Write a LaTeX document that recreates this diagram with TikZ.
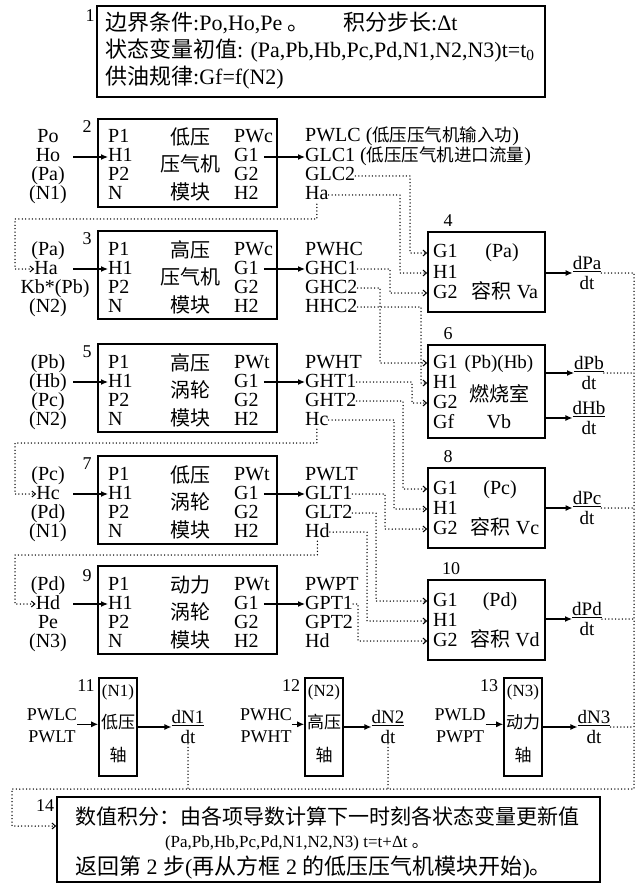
\documentclass[tikz,border=0pt]{standalone}
\usepackage{fontspec}
\setmainfont{Liberation Serif}
\newfontfamily\zhfont{Noto Sans CJK SC}
\newcommand{\zh}[1]{{\zhfont #1}}
\newcommand{\zhs}[1]{{\zhfont\fontsize{17.5}{17.5}\selectfont #1}}
\usetikzlibrary{arrows.meta}
\tikzset{
  box/.style={draw, line width=1.6pt, inner sep=0pt},
  txt/.style={inner sep=0pt, font=\fontsize{20}{20}\selectfont, text height=14pt, text depth=4pt},
  wtxt/.style={txt, anchor=west},
  bigtxt/.style={inner sep=0pt, anchor=west, font=\fontsize{22}{22}\selectfont, text height=15pt, text depth=4pt},
  smtxt/.style={inner sep=0pt, font=\fontsize{18}{18}\selectfont, text height=12.6pt, text depth=3.6pt},
  axtxt/.style={inner sep=0pt, font=\fontsize{17}{17}\selectfont, text height=12pt, text depth=3.4pt},
  num/.style={inner sep=0pt, font=\fontsize{18}{18}\selectfont},
  frac/.style={inner sep=0pt, align=center, font=\fontsize{19}{19}\selectfont},
  arr/.style={line width=1.2pt, -{Latex[length=7pt,width=6pt]}},
  dotln/.style={line width=1.5pt, line cap=round, dash pattern=on 0pt off 3.4pt},
  dotarr/.style={dotln, -{Straight Barb[length=3.5pt,width=6pt,line width=1pt]}}
}
\begin{document}
\begin{tikzpicture}[x=1pt,y=-1pt]
\fill[white] (0,0) rectangle (639,893);
\useasboundingbox (0,0) rectangle (639,893);

\node[box, minimum width=448pt, minimum height=91pt] (b1) at (321,51.5) {};
\node[num] (t1) at (90,16) {1};
\node[bigtxt] (l1a) at (105,25) {\zh{边界条件}:Po,Ho,Pe \zh{。}};
\node[bigtxt] (l1b) at (343,25) {\zh{积分步长}:Δt};
\node[bigtxt] (l1c) at (105,52) {\zh{状态变量初值}: (Pa,Pb,Hb,Pc,Pd,N1,N2,N3)t=t\textsubscript{0}};
\node[bigtxt] (l1d) at (105,79) {\zh{供油规律}:Gf=f(N2)};

\node[box, minimum width=179pt, minimum height=88pt] (b2) at (187.5,163) {};
\node[num] (t2) at (87,127) {2};
\node[txt] (i2a) at (48,138) {Po};
\node[txt] (i2b) at (48,157) {Ho};
\node[txt] (i2c) at (48,176) {(Pa)};
\node[txt] (i2d) at (48,195) {(N1)};
\node[wtxt] (l2a) at (108,138) {P1};
\node[wtxt] (l2b) at (108,157) {H1};
\node[wtxt] (l2c) at (108,176) {P2};
\node[wtxt] (l2d) at (108,195) {N};
\node[txt] (c2a) at (190,140) {\zh{低压}};
\node[txt] (c2b) at (190,167) {\zh{压气机}};
\node[txt] (c2c) at (190,195) {\zh{模块}};
\node[wtxt] (r2a) at (234,138) {PWc};
\node[wtxt] (r2b) at (234,157) {G1};
\node[wtxt] (r2c) at (234,176) {G2};
\node[wtxt] (r2d) at (234,195) {H2};
\node[wtxt] (o2a) at (305,137) {PWLC (\zhs{低压压气机输入功})};
\node[wtxt] (o2b) at (305,157) {GLC1 (\zhs{低压压气机进口流量})};
\node[wtxt] (o2c) at (305,176) {GLC2};
\node[wtxt] (o2d) at (305,195) {Ha};
\draw[arr] ([xshift=25pt]i2b.center) -- (l2b.west);
\draw[arr, shorten <=5pt] (r2b.east) -- (o2b.west);

\node[box, minimum width=179pt, minimum height=88pt] (b3) at (187.5,275) {};
\node[num] (t3) at (87,239) {3};
\node[txt] (i3a) at (48,250) {(Pa)};
\node[txt] (i3b) at (46,269) {Ha};
\node[txt] (i3c) at (55,288) {Kb*(Pb)};
\node[txt] (i3d) at (48,307) {(N2)};
\node[wtxt] (l3a) at (108,250) {P1};
\node[wtxt] (l3b) at (108,269) {H1};
\node[wtxt] (l3c) at (108,288) {P2};
\node[wtxt] (l3d) at (108,307) {N};
\node[txt] (c3a) at (190,252) {\zh{高压}};
\node[txt] (c3b) at (190,279) {\zh{压气机}};
\node[txt] (c3c) at (190,307) {\zh{模块}};
\node[wtxt] (r3a) at (234,250) {PWc};
\node[wtxt] (r3b) at (234,269) {G1};
\node[wtxt] (r3c) at (234,288) {G2};
\node[wtxt] (r3d) at (234,307) {H2};
\node[wtxt] (o3a) at (305,250) {PWHC};
\node[wtxt] (o3b) at (305,269) {GHC1};
\node[wtxt] (o3c) at (305,288) {GHC2};
\node[wtxt] (o3d) at (305,307) {HHC2};
\draw[arr] ([xshift=27pt]i3b.center) -- (l3b.west);
\draw[arr, shorten <=5pt] (r3b.east) -- (o3b.west);

\node[box, minimum width=179pt, minimum height=88pt] (b5) at (187.5,388) {};
\node[num] (t5) at (87,352) {5};
\node[txt] (i5a) at (48,363) {(Pb)};
\node[txt] (i5b) at (48,382) {(Hb)};
\node[txt] (i5c) at (48,401) {(Pc)};
\node[txt] (i5d) at (48,420) {(N2)};
\node[wtxt] (l5a) at (108,363) {P1};
\node[wtxt] (l5b) at (108,382) {H1};
\node[wtxt] (l5c) at (108,401) {P2};
\node[wtxt] (l5d) at (108,420) {N};
\node[txt] (c5a) at (190,365) {\zh{高压}};
\node[txt] (c5b) at (190,392) {\zh{涡轮}};
\node[txt] (c5c) at (190,420) {\zh{模块}};
\node[wtxt] (r5a) at (234,363) {PWt};
\node[wtxt] (r5b) at (234,382) {G1};
\node[wtxt] (r5c) at (234,401) {G2};
\node[wtxt] (r5d) at (234,420) {H2};
\node[wtxt] (o5a) at (305,363) {PWHT};
\node[wtxt] (o5b) at (305,382) {GHT1};
\node[wtxt] (o5c) at (305,401) {GHT2};
\node[wtxt] (o5d) at (305,420) {Hc};
\draw[arr] ([xshift=25pt]i5b.center) -- (l5b.west);
\draw[arr, shorten <=5pt] (r5b.east) -- (o5b.west);

\node[box, minimum width=179pt, minimum height=88pt] (b7) at (187.5,500) {};
\node[num] (t7) at (87,464) {7};
\node[txt] (i7a) at (48,475) {(Pc)};
\node[txt] (i7b) at (48,494) {Hc};
\node[txt] (i7c) at (48,513) {(Pd)};
\node[txt] (i7d) at (48,532) {(N1)};
\node[wtxt] (l7a) at (108,475) {P1};
\node[wtxt] (l7b) at (108,494) {H1};
\node[wtxt] (l7c) at (108,513) {P2};
\node[wtxt] (l7d) at (108,532) {N};
\node[txt] (c7a) at (190,477) {\zh{低压}};
\node[txt] (c7b) at (190,504) {\zh{涡轮}};
\node[txt] (c7c) at (190,532) {\zh{模块}};
\node[wtxt] (r7a) at (234,475) {PWt};
\node[wtxt] (r7b) at (234,494) {G1};
\node[wtxt] (r7c) at (234,513) {G2};
\node[wtxt] (r7d) at (234,532) {H2};
\node[wtxt] (o7a) at (305,475) {PWLT};
\node[wtxt] (o7b) at (305,494) {GLT1};
\node[wtxt] (o7c) at (305,513) {GLT2};
\node[wtxt] (o7d) at (305,532) {Hd};
\draw[arr] ([xshift=25pt]i7b.center) -- (l7b.west);
\draw[arr, shorten <=5pt] (r7b.east) -- (o7b.west);

\node[box, minimum width=179pt, minimum height=88pt] (b9) at (187.5,610) {};
\node[num] (t9) at (87,576) {9};
\node[txt] (i9a) at (48,585) {(Pd)};
\node[txt] (i9b) at (48,604) {Hd};
\node[txt] (i9c) at (48,623) {Pe};
\node[txt] (i9d) at (48,642) {(N3)};
\node[wtxt] (l9a) at (108,585) {P1};
\node[wtxt] (l9b) at (108,604) {H1};
\node[wtxt] (l9c) at (108,623) {P2};
\node[wtxt] (l9d) at (108,642) {N};
\node[txt] (c9a) at (190,587) {\zh{动力}};
\node[txt] (c9b) at (190,614) {\zh{涡轮}};
\node[txt] (c9c) at (190,642) {\zh{模块}};
\node[wtxt] (r9a) at (234,585) {PWt};
\node[wtxt] (r9b) at (234,604) {G1};
\node[wtxt] (r9c) at (234,623) {G2};
\node[wtxt] (r9d) at (234,642) {H2};
\node[wtxt] (o9a) at (305,585) {PWPT};
\node[wtxt] (o9b) at (305,604) {GPT1};
\node[wtxt] (o9c) at (305,623) {GPT2};
\node[wtxt] (o9d) at (305,642) {Hd};
\draw[arr] ([xshift=25pt]i9b.center) -- (l9b.west);
\draw[arr, shorten <=5pt] (r9b.east) -- (o9b.west);

\node[box, minimum width=117pt, minimum height=80pt] (b4) at (486.5,272) {};
\node[num] (t4) at (448,221) {4};
\node[wtxt] (v4a) at (433,253) {G1};
\node[wtxt] (v4b) at (433,273) {H1};
\node[wtxt] (v4c) at (433,293) {G2};
\node[txt] (n4a) at (502,253) {(Pa)};
\node[txt] (n4b) at (505,293) {\zh{容积} Va};
\node[frac] (f4) at (587,273) {\underline{dPa}\\[1pt]dt};
\draw[arr] (b4.east |- f4) -- (f4.west);

\node[box, minimum width=117pt, minimum height=93pt] (b6) at (486.5,391.5) {};
\node[num] (t6) at (448,334) {6};
\node[wtxt] (v6a) at (433,363) {G1};
\node[wtxt] (v6b) at (433,383) {H1};
\node[wtxt] (v6c) at (433,403) {G2};
\node[wtxt] (v6d) at (433,423) {Gf};
\node[txt, font=\fontsize{19}{19}\selectfont] (n6a) at (499,363) {(Pb)(Hb)};
\node[txt] (n6b) at (499,396) {\zh{燃烧室}};
\node[txt] (n6c) at (499,423) {Vb};
\node[frac] (f6a) at (589,373) {\underline{dPb}\\[1pt]dt};
\node[frac] (f6b) at (589,418) {\underline{dHb}\\[1pt]dt};
\draw[arr] (b6.east |- f6a) -- (f6a.west);
\draw[arr] (b6.east |- f6b) -- (f6b.west);

\node[box, minimum width=117pt, minimum height=80pt] (b8) at (486.5,508) {};
\node[num] (t8) at (448,457) {8};
\node[wtxt] (v8a) at (433,489) {G1};
\node[wtxt] (v8b) at (433,509) {H1};
\node[wtxt] (v8c) at (433,529) {G2};
\node[txt] (n8a) at (500,489) {(Pc)};
\node[txt] (n8b) at (505,529) {\zh{容积} Vc};
\node[frac] (f8) at (587,508) {\underline{dPc}\\[1pt]dt};
\draw[arr] (b8.east |- f8) -- (f8.west);

\node[box, minimum width=117pt, minimum height=80pt] (b10) at (486.5,620) {};
\node[num] (t10) at (451,569) {10};
\node[wtxt] (v10a) at (433,601) {G1};
\node[wtxt] (v10b) at (433,621) {H1};
\node[wtxt] (v10c) at (433,641) {G2};
\node[txt] (n10a) at (500,601) {(Pd)};
\node[txt] (n10b) at (505,641) {\zh{容积} Vd};
\node[frac] (f10) at (587,619) {\underline{dPd}\\[1pt]dt};
\draw[arr] (b10.east |- f10) -- (f10.west);

\coordinate (k4a) at (410,253);
\coordinate (k4b) at (400,273);
\coordinate (k4c) at (390,293);
\coordinate (k6a) at (380,363);
\coordinate (k6b) at (421,383);
\coordinate (k6c) at (412,403);
\coordinate (k8a) at (403,489);
\coordinate (k8b) at (394,509);
\coordinate (k8c) at (385,529);
\coordinate (k10a) at (376,601);
\coordinate (k10b) at (367,621);
\coordinate (k10c) at (358,641);
\draw[dotarr] (o2c.east) -| (k4a) -- (b4.west |- k4a);
\draw[dotarr] (o2d.east) -| (k4b) -- (b4.west |- k4b);
\draw[dotarr] (o3b.east) -| (k4c) -- (b4.west |- k4c);
\draw[dotarr] (o3c.east) -| (k6a) -- (b6.west |- k6a);
\draw[dotarr] (o3d.east) -| (k6b) -- (b6.west |- k6b);
\draw[dotarr] (o5b.east) -| (k6c) -- (b6.west |- k6c);
\draw[dotarr] (o5c.east) -| (k8a) -- (b8.west |- k8a);
\draw[dotarr] (o5d.east) -| (k8b) -- (b8.west |- k8b);
\draw[dotarr] (o7b.east) -| (k8c) -- (b8.west |- k8c);
\draw[dotarr] (o7c.east) -| (k10a) -- (b10.west |- k10a);
\draw[dotarr] (o7d.east) -| (k10b) -- (b10.west |- k10b);
\draw[dotarr] (o9b.east) -| (k10c) -- (b10.west |- k10c);

\coordinate (ha) at (15,219);
\coordinate (hc) at (15,443);
\coordinate (hd) at (15,555);
\draw[dotarr] (o2d.south) |- (ha) |- (i3b.west);
\draw[dotarr] (o5d.south) |- (hc) |- (i7b.west);
\draw[dotarr] (o7d.south) |- (hd) |- (i9b.west);

\node[box, minimum width=38pt, minimum height=98pt] (b11) at (118,727) {};
\node[num] (t11) at (86,686) {11};
\node[axtxt] (n11a) at (118,692) {(N1)};
\node[axtxt] (n11b) at (118,724) {\zh{低压}};
\node[axtxt] (n11c) at (118,757) {\zh{轴}};
\node[smtxt] (p11a) at (52,716) {PWLC};
\node[smtxt] (p11b) at (52,738) {PWLT};
\node[frac] (f11) at (188,727) {\underline{dN1}\\[1pt]dt};
\draw[arr] (p11a.south east) -- (p11a.south east -| b11.west);
\draw[arr] (b11.east |- f11) -- (f11.west);

\node[box, minimum width=38pt, minimum height=98pt] (b12) at (324,727) {};
\node[num] (t12) at (291,686) {12};
\node[axtxt] (n12a) at (324,692) {(N2)};
\node[axtxt] (n12b) at (324,724) {\zh{高压}};
\node[axtxt] (n12c) at (324,757) {\zh{轴}};
\node[smtxt] (p12a) at (266,716) {PWHC};
\node[smtxt] (p12b) at (266,738) {PWHT};
\node[frac] (f12) at (388,727) {\underline{dN2}\\[1pt]dt};
\draw[arr] (p12a.south east) -- (p12a.south east -| b12.west);
\draw[arr] (b12.east |- f12) -- (f12.west);

\node[box, minimum width=38pt, minimum height=98pt] (b13) at (523,727) {};
\node[num] (t13) at (489,686) {13};
\node[axtxt] (n13a) at (523,692) {(N3)};
\node[axtxt] (n13b) at (523,724) {\zh{动力}};
\node[axtxt] (n13c) at (523,757) {\zh{轴}};
\node[smtxt] (p13a) at (460,716) {PWLD};
\node[smtxt] (p13b) at (460,738) {PWPT};
\node[frac] (f13) at (594,727) {\underline{dN3}\\[1pt]dt};
\draw[arr] (p13a.south east) -- (p13a.south east -| b13.west);
\draw[arr] (b13.east |- f13) -- (f13.west);

\node[box, minimum width=543pt, minimum height=85pt] (b14) at (328.5,839.5) {};
\node[num] (t14) at (45,806) {14};
\node[inner sep=0pt, anchor=west, font=\fontsize{21}{21}\selectfont] (m14a) at (75,816) {\zh{数值积分：由各项导数计算下一时刻各状态变量更新值}};
\node[inner sep=0pt, font=\fontsize{17}{17}\selectfont] (m14b) at (297,843) {(Pa,Pb,Hb,Pc,Pd,N1,N2,N3) t=t+Δt \zh{。}};
\node[inner sep=0pt, anchor=west, font=\fontsize{22}{22}\selectfont] (m14c) at (75,868) {\zh{返回第} 2 \zh{步}(\zh{再从方框} 2 \zh{的低压压气机模块开始})\zh{。}};

\coordinate (rb) at (634,789);
\coordinate (lb) at (12,789);
\coordinate (ent) at (12,826);
\draw[dotarr] (f4.east) -| (rb) -- (lb) |- (b14.west |- ent);
\draw[dotln] (f6a.east) -- (f6a.east -| rb);
\draw[dotln] (f8.east) -- (f8.east -| rb);
\draw[dotln] (f10.east) -- (f10.east -| rb);
\draw[dotln] (f13.east) -- (f13.east -| rb);
\draw[dotln] (f11.south) -- (f11.south |- rb);
\draw[dotln] (f12.south) -- (f12.south |- rb);
\end{tikzpicture}
\end{document}
